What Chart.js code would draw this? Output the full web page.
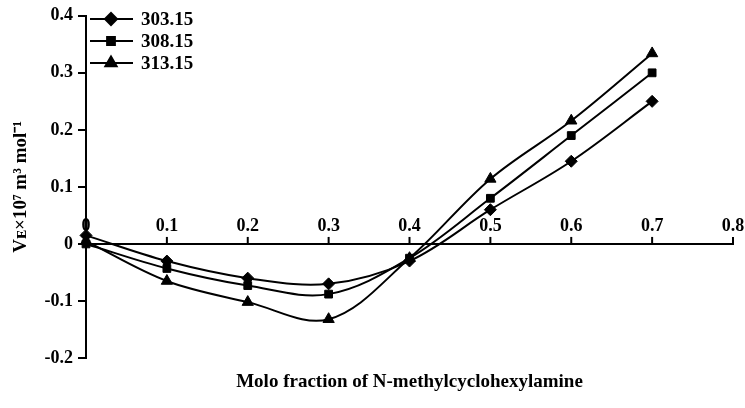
<!DOCTYPE html>
<html>
<head>
<meta charset="utf-8">
<script src="https://cdn.jsdelivr.net/npm/chart.js@4/dist/chart.umd.min.js"></script>
<style>
html,body{margin:0;padding:0;background:#fff;}
#wrap{width:745px;height:408px;}
</style>
</head>
<body>
<div id="wrap"><canvas id="c" width="745" height="408"></canvas></div>
<script>
const seriesNames = ["303.15", "308.15", "313.15"];
const moleFractions = [0, 0.1, 0.2, 0.3, 0.4, 0.5, 0.6, 0.7];
const v303 = [0.015, -0.030, -0.060, -0.070, -0.030, 0.060, 0.145, 0.250];
const v308 = [0.000, -0.043, -0.073, -0.088, -0.025, 0.080, 0.190, 0.300];
const v313 = [0.005, -0.065, -0.102, -0.132, -0.025, 0.114, 0.216, 0.334];
const xTickValues = [0, 0.1, 0.2, 0.3, 0.4, 0.5, 0.6, 0.7, 0.8];
const xTitle = "Molo fraction of N-methylcyclohexylamine";
const yTitle = "Vᴇ×10⁷ m³ mol⁻¹";

const FONT = "'Liberation Serif', 'Times New Roman', serif";
const styles = ["rectRot", "rect", "triangle"];
const radii = [6, 5.5, 6.5];
const allSeries = [v303, v308, v313];

const datasets = allSeries.map((vals, i) => ({
  label: seriesNames[i],
  data: moleFractions.map((x, j) => ({x: x, y: vals[j]})),
  borderColor: '#000',
  backgroundColor: '#000',
  borderWidth: 2,
  pointStyle: styles[i],
  pointRadius: radii[i],
  pointBorderWidth: 1,
  tension: 0.35,
  clip: false
}));

const customAxes = {
  id: 'customAxes',
  afterDraw(chart) {
    const ctx = chart.ctx;
    const xs = chart.scales.x, ys = chart.scales.y;
    const y0 = ys.getPixelForValue(0);
    ctx.save();
    ctx.strokeStyle = '#000';
    ctx.lineWidth = 2;
    ctx.beginPath();
    ctx.moveTo(xs.getPixelForValue(0), y0);
    ctx.lineTo(xs.getPixelForValue(0.8), y0);
    ctx.stroke();
    ctx.fillStyle = '#000';
    ctx.font = "bold 18px " + FONT;
    ctx.textAlign = 'center';
    ctx.textBaseline = 'bottom';
    xTickValues.forEach(v => {
      const px = xs.getPixelForValue(v);
      ctx.beginPath();
      ctx.moveTo(px, y0 + 1);
      ctx.lineTo(px, y0 - 7);
      ctx.stroke();
      ctx.fillText(String(v), px, y0 - 9);
    });
    // x title
    ctx.font = "bold 19px " + FONT;
    ctx.textBaseline = 'middle';
    ctx.fillText(xTitle, (chart.chartArea.left + chart.chartArea.right) / 2, 382);
    // legend
    ctx.font = "bold 19px " + FONT;
    ctx.textAlign = 'left';
    chart.data.datasets.forEach((ds, i) => {
      const ly = 19 + i * 22;
      ctx.lineWidth = 2;
      ctx.beginPath();
      ctx.moveTo(90, ly);
      ctx.lineTo(133, ly);
      ctx.stroke();
      Chart.helpers.drawPoint(ctx, {pointStyle: ds.pointStyle, radius: ds.pointRadius, borderWidth: 1, rotation: 0}, 111, ly);
      ctx.fill();
      ctx.fillText(ds.label, 141, ly + 1);
    });
    ctx.restore();
  }
};

new Chart(document.getElementById('c'), {
  type: 'line',
  data: {datasets: datasets},
  plugins: [customAxes],
  options: {
    responsive: false,
    animation: false,
    layout: {padding: {left: 0, top: 15, right: 12, bottom: 50}},
    plugins: {legend: {display: false}, tooltip: {enabled: false}},
    scales: {
      x: {
        type: 'linear', min: 0, max: 0.8, display: false
      },
      y: {
        min: -0.2, max: 0.4,
        afterFit(scale) { scale.width = 86; },
        ticks: {
          stepSize: 0.1,
          color: '#000',
          padding: 5,
          font: {family: FONT, size: 18, weight: 'bold'},
          callback: v => String(Math.round(v * 10) / 10)
        },
        grid: {display: true, drawOnChartArea: false, tickLength: 8, color: '#000', lineWidth: 2},
        border: {display: true, color: '#000', width: 2},
        title: {
          display: true, text: yTitle, color: '#000',
          font: {family: FONT, size: 19, weight: 'bold'},
          padding: {top: 10, bottom: 0}
        }
      }
    }
  }
});
</script>
</body>
</html>
